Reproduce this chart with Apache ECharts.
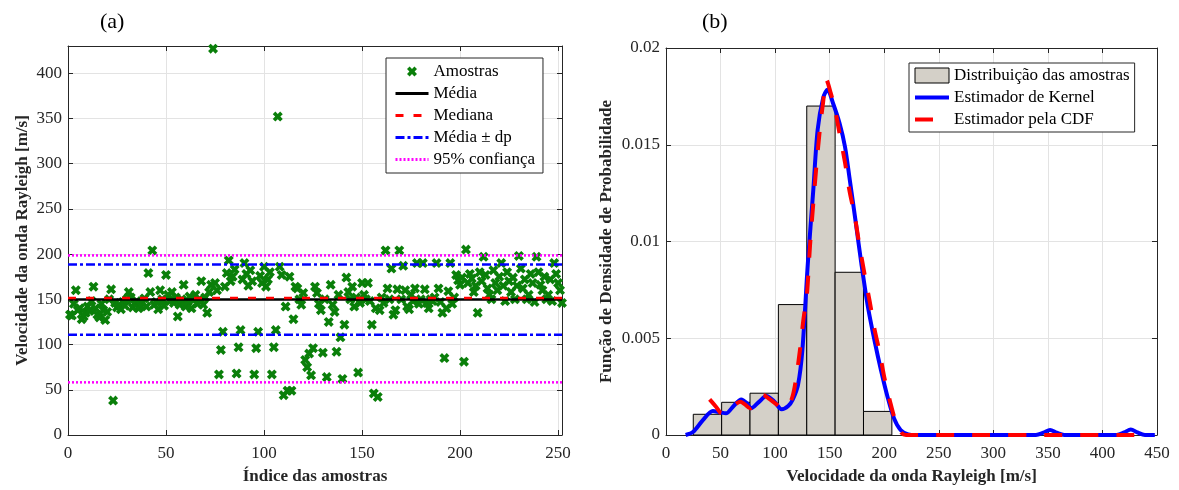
<!DOCTYPE html>
<html>
<head>
<meta charset="utf-8">
<script src="https://cdn.jsdelivr.net/npm/echarts@6/dist/echarts.min.js"></script>
<style>
  html, body { margin: 0; padding: 0; background: #fff; }
  #chart { width: 1179px; height: 490px; }
</style>
</head>
<body>
<div id="chart"></div>
<script>
// amostras (indice 1..252)
var amostras = [
    133, 132, 145, 160, 138, 140, 128, 131, 135, 142,
    137, 148, 164, 140, 133, 130, 145, 138, 127, 136,
    150, 161, 38, 146, 141, 144, 139, 147, 143, 150,
    158, 152, 141, 145, 148, 140, 143, 146, 151, 142,
    179, 158, 204, 144, 147, 139, 160, 150, 143, 177,
    155, 148, 158, 146, 152, 131, 144, 150, 166, 142,
    147, 153, 140, 149, 155, 145, 150, 170, 144, 152,
    135, 158, 166, 427, 168, 160, 67, 94, 114, 164,
    179, 193, 170, 175, 183, 68, 97, 116, 172, 190,
    178, 165, 182, 170, 67, 96, 114, 176, 168, 186,
    164, 172, 180, 67, 97, 116, 352, 186, 177, 44,
    142, 49, 175, 49, 128, 164, 162, 150, 144, 157,
    83, 75, 90, 66, 96, 164, 157, 145, 138, 91,
    150, 64, 125, 166, 144, 136, 92, 155, 108, 62,
    122, 174, 158, 150, 164, 142, 152, 69, 146, 168,
    155, 150, 168, 148, 122, 46, 140, 42, 138, 152,
    146, 204, 162, 150, 184, 133, 138, 161, 204, 150,
    187, 160, 142, 139, 155, 148, 162, 190, 145, 150,
    190, 161, 146, 140, 150, 148, 152, 190, 162, 147,
    135, 85, 140, 159, 190, 145, 152, 177, 171, 166,
    174, 81, 205, 168, 178, 173, 158, 165, 135, 180,
    170, 197, 177, 162, 155, 150, 182, 168, 160, 175,
    190, 165, 148, 180, 170, 158, 174, 150, 165, 198,
    184, 162, 172, 150, 155, 178, 168, 147, 197, 180,
    166, 160, 175, 150, 155, 172, 148, 190, 178, 168,
    160, 146
];

// estatisticas
var media = 149.7;
var mediana = 151.5;
var dpInf = 110.8, dpSup = 188.6;
var ciInf = 58.2, ciSup = 198.5;

// histograma (densidade)
var binEdges = [25, 51, 77, 103, 129, 155, 181, 207];
var binDens = [0.00107, 0.00169, 0.00216, 0.00674, 0.0170, 0.00841, 0.00122];

// estimador de kernel
var kernelX = [18, 25, 34, 43, 49, 55, 62, 69, 74, 78, 85, 92, 99, 106, 112, 116, 121, 125,
    130, 135, 139, 144, 148, 153, 159, 164, 168, 174, 179, 185, 191, 197, 203, 209, 215,
    222, 229, 339, 346, 352, 358, 365, 413, 420, 426, 432, 439, 448];
var kernelY = [0, 0.00017, 0.00078, 0.00124, 0.00118, 0.00112, 0.00150, 0.00184, 0.00165,
    0.00138, 0.00170, 0.00202, 0.00175, 0.00133, 0.00150, 0.00181, 0.00259, 0.0044,
    0.00888, 0.01267, 0.01578, 0.01741, 0.01784, 0.01716, 0.01612, 0.01491, 0.01336,
    0.01095, 0.00888, 0.00664, 0.00491, 0.00336, 0.00198, 0.00086, 0.00026, 0.00003, 0,
    0, 0.00012, 0.00026, 0.00012, 0, 0, 0.00013, 0.00029, 0.00013, 0, 0];

// estimador pela CDF
var cdfX = [40, 46, 51, 58, 64, 68, 72, 77, 83, 89, 95, 101, 107, 112, 116, 119, 123, 126,
    129, 132, 135, 138, 141, 144, 147, 151, 155, 159, 164, 168, 173, 177, 182, 187, 191,
    196, 200, 205, 211, 216, 220, 430];
var cdfY = [0.00184, 0.00145, 0.00112, 0.00135, 0.00160, 0.00172, 0.00160, 0.00138, 0.00172,
    0.00207, 0.00185, 0.00160, 0.00138, 0.00150, 0.00200, 0.00284, 0.0045, 0.0060, 0.00716,
    0.0098, 0.01198, 0.0140, 0.01578, 0.0172, 0.01836, 0.01767, 0.0168, 0.0156, 0.0141,
    0.01267, 0.0113, 0.00991, 0.0083, 0.00681, 0.0055, 0.00422, 0.0030, 0.00181, 0.0006,
    0.0001, 0, 0];

var fonte = 'Liberation Serif';
var corEixo = '#262626';
var corGrade = '#e3e3e3';
var xMarca = 'path://M0,2.6L2.6,0L5,2.4L7.4,0L10,2.6L7.6,5L10,7.4L7.4,10L5,7.6L2.6,10L0,7.4L2.4,5Z';
var semSimbolo = { opacity: 0 };

function zip(xs, ys) {
    var out = [];
    for (var i = 0; i < xs.length; i++) out.push([xs[i], ys[i]]);
    return out;
}

var scatterData = amostras.map(function (v, i) { return [i + 1, v]; });
var histData = binDens.map(function (d, i) { return [binEdges[i], binEdges[i + 1], d]; });

// linha horizontal no grafico (a)
function hLine(name, v, color, type) {
    return {
        name: name,
        type: 'line',
        xAxisIndex: 0, yAxisIndex: 0,
        data: [[0, v], [252, v]],
        symbol: 'none',
        lineStyle: { color: color, width: 2.5, type: type },
        itemStyle: { color: color },
        z: 3
    };
}

// eixo principal com rotulos
function eixo(extra) {
    var base = {
        type: 'value',
        axisLine: { show: true, onZero: false, lineStyle: { color: corEixo, width: 1 } },
        axisTick: { show: true, inside: true, length: 5, lineStyle: { color: corEixo } },
        axisLabel: { color: '#262626', fontFamily: fonte, fontSize: 17 },
        splitLine: { show: true, lineStyle: { color: corGrade, width: 1 } },
        nameTextStyle: { color: '#262626', fontFamily: fonte, fontSize: 17, fontWeight: 'bold' }
    };
    for (var k in extra) base[k] = extra[k];
    return base;
}
// eixo espelhado (topo / direita), so marcas
function espelho(extra) {
    var base = {
        type: 'value',
        axisLine: { show: true, onZero: false, lineStyle: { color: corEixo, width: 1 } },
        axisTick: { show: true, inside: true, length: 5, lineStyle: { color: corEixo } },
        axisLabel: { show: false },
        splitLine: { show: false }
    };
    for (var k in extra) base[k] = extra[k];
    return base;
}

var myChart = echarts.init(document.getElementById('chart'));

var option = {
    animation: false,
    backgroundColor: '#fff',
    title: [
        { text: '(a)', left: 95, top: 6, textStyle: { fontFamily: fonte, fontSize: 22, fontWeight: 'normal', color: '#000' } },
        { text: '(b)', left: 697, top: 6, textStyle: { fontFamily: fonte, fontSize: 22, fontWeight: 'normal', color: '#000' } }
    ],
    grid: [
        { left: 68, top: 46, width: 494, height: 389 },
        { left: 666, top: 48, width: 491, height: 387 }
    ],
    xAxis: [
        eixo({ gridIndex: 0, min: 0, max: 252, interval: 50, name: 'Índice das amostras',
            nameLocation: 'middle', nameGap: 33, axisLabel: { color: '#262626', fontFamily: fonte, fontSize: 17, margin: 10, showMaxLabel: false } }),
        espelho({ gridIndex: 0, min: 0, max: 252, interval: 50, position: 'top' }),
        eixo({ gridIndex: 1, min: 0, max: 450, interval: 50, name: 'Velocidade da onda Rayleigh [m/s]',
            nameLocation: 'middle', nameGap: 33, axisLabel: { color: '#262626', fontFamily: fonte, fontSize: 17, margin: 10 } }),
        espelho({ gridIndex: 1, min: 0, max: 450, interval: 50, position: 'top' })
    ],
    yAxis: [
        eixo({ gridIndex: 0, min: 0, max: 430, interval: 50, name: 'Velocidade da onda Rayleigh [m/s]',
            nameLocation: 'middle', nameGap: 37, axisLabel: { color: '#262626', fontFamily: fonte, fontSize: 17, margin: 6, showMaxLabel: false } }),
        espelho({ gridIndex: 0, min: 0, max: 430, interval: 50, position: 'right' }),
        eixo({ gridIndex: 1, min: 0, max: 0.02, interval: 0.005, name: 'Função de Densidade de Probabilidade',
            nameLocation: 'middle', nameGap: 51, axisLabel: { color: '#262626', fontFamily: fonte, fontSize: 17, margin: 6 } }),
        espelho({ gridIndex: 1, min: 0, max: 0.02, interval: 0.005, position: 'right' })
    ],
    legend: [
        {
            orient: 'vertical', left: 386, top: 58,
            padding: [5, 8, 5, 8],
            backgroundColor: '#fff', borderColor: corEixo, borderWidth: 1,
            itemWidth: 33, itemHeight: 10, itemGap: 5,
            textStyle: { fontFamily: fonte, fontSize: 17, lineHeight: 17, color: '#000' },
            data: [
                { name: 'Amostras', icon: xMarca },
                { name: 'Média', itemStyle: semSimbolo, lineStyle: { width: 3 } },
                { name: 'Mediana', itemStyle: semSimbolo, lineStyle: { width: 3 } },
                { name: 'Média ± dp', itemStyle: semSimbolo, lineStyle: { width: 3 } },
                { name: '95% confiança', itemStyle: semSimbolo, lineStyle: { width: 3 } }
            ]
        },
        {
            orient: 'vertical', left: 909, top: 63,
            padding: [4, 5, 4, 4],
            backgroundColor: '#fff', borderColor: corEixo, borderWidth: 1,
            itemWidth: 34, itemHeight: 15, itemGap: 5,
            textStyle: { fontFamily: fonte, fontSize: 17, lineHeight: 17, color: '#000' },
            data: [
                { name: 'Distribuição das amostras', icon: 'rect',
                    itemStyle: { color: '#d4d0c8', borderColor: '#000', borderWidth: 1 } },
                { name: 'Estimador de Kernel', itemStyle: semSimbolo, lineStyle: { width: 4 } },
                { name: 'Estimador pela CDF', itemStyle: semSimbolo, lineStyle: { width: 4 } }
            ]
        }
    ],
    series: [
        {
            name: 'Amostras',
            type: 'scatter',
            xAxisIndex: 0, yAxisIndex: 0,
            data: scatterData,
            symbol: xMarca,
            symbolSize: 10,
            itemStyle: { color: '#0a7f0a', opacity: 1 },
            z: 2
        },
        hLine('Média', media, '#000000', 'solid'),
        hLine('Mediana', mediana, '#ff0000', [8, 10]),
        hLine('Média ± dp', dpSup, '#0000ff', [9, 3, 3, 3]),
        hLine('Média ± dp', dpInf, '#0000ff', [9, 3, 3, 3]),
        hLine('95% confiança', ciSup, '#ff00ff', [2, 2]),
        hLine('95% confiança', ciInf, '#ff00ff', [2, 2]),
        {
            name: 'Distribuição das amostras',
            type: 'custom',
            xAxisIndex: 2, yAxisIndex: 2,
            data: histData,
            encode: { x: [0, 1], y: 2 },
            itemStyle: { color: '#d4d0c8' },
            renderItem: function (params, api) {
                var p0 = api.coord([api.value(0), api.value(2)]);
                var p1 = api.coord([api.value(1), 0]);
                return {
                    type: 'rect',
                    shape: { x: p0[0], y: p0[1], width: p1[0] - p0[0], height: p1[1] - p0[1] },
                    style: { fill: '#d4d0c8', stroke: '#000', lineWidth: 1 }
                };
            },
            z: 2
        },
        {
            name: 'Estimador de Kernel',
            type: 'line',
            xAxisIndex: 2, yAxisIndex: 2,
            data: zip(kernelX, kernelY),
            symbol: 'none',
            smooth: 0.3,
            lineStyle: { color: '#0000ff', width: 4 },
            itemStyle: { color: '#0000ff' },
            z: 3
        },
        {
            name: 'Estimador pela CDF',
            type: 'line',
            xAxisIndex: 2, yAxisIndex: 2,
            data: zip(cdfX, cdfY),
            symbol: 'none',
            smooth: 0.3,
            lineStyle: { color: '#ff0000', width: 4, type: [18, 18] },
            itemStyle: { color: '#ff0000' },
            z: 4
        }
    ]
};

myChart.setOption(option);
</script>
</body>
</html>
